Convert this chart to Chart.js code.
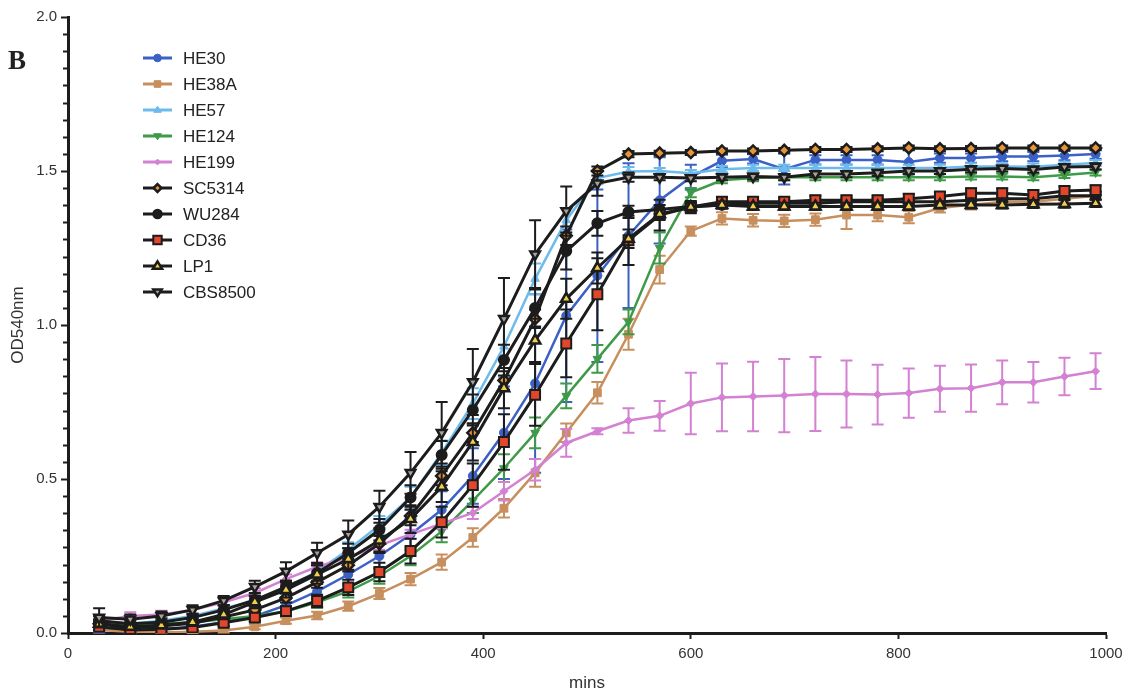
<!DOCTYPE html>
<html>
<head>
<meta charset="utf-8">
<title>OD540 growth curves</title>
<script src="https://cdn.jsdelivr.net/npm/chart.js@4.4.1/dist/chart.umd.min.js"></script>
<style>
  html, body { margin: 0; padding: 0; background: #fff; }
  #wrap { position: relative; width: 1133px; height: 696px; }
  #panel { position: absolute; left: 8px; top: 47px; font: bold 27px "Liberation Serif", "DejaVu Serif", serif; line-height: 1; color: #222; }
</style>
</head>
<body>
<div id="wrap">
  <canvas id="growthChart" width="1133" height="696"></canvas>
  <div id="panel">B</div>
</div>
<script>
// sampling times (mins)
const times = [30, 60, 90, 120, 150, 180, 210, 240, 270, 300, 330, 360, 390, 420, 450, 480, 510,
               540, 570, 600, 630, 660, 690, 720, 750, 780, 810, 840, 870, 900, 930, 960, 990];

const strains = ['HE30', 'HE38A', 'HE57', 'HE124', 'HE199', 'SC5314', 'WU284', 'CD36', 'LP1', 'CBS8500'];

// mean OD540 per strain
const he30 = [0.010, 0.010, 0.012, 0.020, 0.035, 0.055, 0.090, 0.135, 0.190, 0.250, 0.320, 0.400, 0.510, 0.650, 0.810, 1.030, 1.160,
              1.290, 1.405, 1.480, 1.533, 1.539, 1.506, 1.536, 1.536, 1.536, 1.529, 1.542, 1.542, 1.547, 1.547, 1.550, 1.555];
const he38a = [0.010, 0.004, 0.002, 0.004, 0.008, 0.020, 0.040, 0.057, 0.087, 0.128, 0.175, 0.230, 0.310, 0.405, 0.520, 0.650, 0.780,
               0.970, 1.180, 1.305, 1.346, 1.340, 1.338, 1.342, 1.357, 1.357, 1.350, 1.380, 1.390, 1.400, 1.400, 1.410, 1.420];
const he57 = [0.030, 0.030, 0.040, 0.055, 0.080, 0.105, 0.145, 0.200, 0.270, 0.350, 0.440, 0.585, 0.745, 0.930, 1.150, 1.340, 1.477,
              1.498, 1.500, 1.493, 1.506, 1.510, 1.510, 1.510, 1.510, 1.510, 1.510, 1.510, 1.515, 1.515, 1.514, 1.520, 1.526];
const he124 = [0.035, 0.025, 0.030, 0.035, 0.045, 0.055, 0.070, 0.100, 0.135, 0.185, 0.250, 0.330, 0.430, 0.535, 0.650, 0.770, 0.890,
               1.010, 1.250, 1.430, 1.470, 1.477, 1.480, 1.480, 1.480, 1.480, 1.480, 1.480, 1.482, 1.482, 1.480, 1.487, 1.495];
const he199 = [0.040, 0.055, 0.060, 0.075, 0.100, 0.130, 0.175, 0.215, 0.245, 0.285, 0.320, 0.355, 0.390, 0.460, 0.530, 0.617, 0.655,
               0.690, 0.705, 0.745, 0.765, 0.768, 0.771, 0.776, 0.776, 0.774, 0.779, 0.793, 0.795, 0.814, 0.814, 0.833, 0.850];
const sc5314 = [0.030, 0.016, 0.023, 0.032, 0.052, 0.075, 0.114, 0.165, 0.220, 0.290, 0.380, 0.510, 0.650, 0.820, 1.020, 1.290, 1.500,
                1.555, 1.558, 1.560, 1.565, 1.565, 1.567, 1.570, 1.570, 1.572, 1.575, 1.572, 1.573, 1.575, 1.575, 1.575, 1.575];
const wu284 = [0.040, 0.030, 0.035, 0.050, 0.075, 0.107, 0.150, 0.195, 0.260, 0.335, 0.440, 0.578, 0.724, 0.886, 1.055, 1.240, 1.330,
               1.367, 1.375, 1.385, 1.390, 1.395, 1.395, 1.395, 1.400, 1.400, 1.400, 1.400, 1.405, 1.410, 1.410, 1.420, 1.420];
const cd36 = [0.020, 0.010, 0.012, 0.018, 0.033, 0.050, 0.071, 0.104, 0.148, 0.198, 0.266, 0.360, 0.480, 0.620, 0.773, 0.940, 1.100,
              1.275, 1.357, 1.383, 1.400, 1.400, 1.400, 1.405, 1.405, 1.405, 1.410, 1.417, 1.428, 1.428, 1.422, 1.435, 1.438];
const lp1 = [0.030, 0.020, 0.025, 0.035, 0.060, 0.100, 0.140, 0.190, 0.240, 0.300, 0.370, 0.475, 0.620, 0.795, 0.950, 1.085, 1.185,
             1.280, 1.360, 1.383, 1.390, 1.385, 1.385, 1.385, 1.385, 1.385, 1.385, 1.390, 1.390, 1.390, 1.392, 1.393, 1.395];
const cbs8500 = [0.050, 0.045, 0.055, 0.075, 0.105, 0.150, 0.200, 0.260, 0.320, 0.410, 0.520, 0.650, 0.815, 1.020, 1.230, 1.370, 1.460,
                 1.480, 1.480, 1.477, 1.480, 1.482, 1.480, 1.490, 1.490, 1.494, 1.500, 1.500, 1.506, 1.508, 1.505, 1.513, 1.515];

// standard deviations (error bars)
const he30Sd = [0.010, 0.010, 0.010, 0.010, 0.012, 0.015, 0.020, 0.025, 0.030, 0.040, 0.050, 0.060, 0.090, 0.150, 0.290, 0.280, 0.280,
                0.235, 0.140, 0.040, 0.020, 0.015, 0.050, 0.015, 0.015, 0.015, 0.040, 0.015, 0.015, 0.015, 0.015, 0.015, 0.015];
const he38aSd = [0.005, 0.005, 0.005, 0.005, 0.006, 0.008, 0.010, 0.012, 0.015, 0.018, 0.020, 0.025, 0.030, 0.030, 0.045, 0.030, 0.035,
                 0.050, 0.045, 0.015, 0.020, 0.020, 0.020, 0.020, 0.045, 0.020, 0.020, 0.015, 0.015, 0.015, 0.015, 0.015, 0.015];
const he57Sd = [0.010, 0.010, 0.010, 0.010, 0.012, 0.015, 0.018, 0.020, 0.025, 0.030, 0.035, 0.040, 0.050, 0.100, 0.050, 0.040, 0.020,
                0.015, 0.010, 0.010, 0.010, 0.010, 0.010, 0.010, 0.010, 0.010, 0.010, 0.010, 0.010, 0.010, 0.010, 0.010, 0.010];
const he124Sd = [0.010, 0.010, 0.010, 0.010, 0.010, 0.012, 0.015, 0.018, 0.020, 0.025, 0.030, 0.035, 0.040, 0.045, 0.050, 0.040, 0.045,
                 0.040, 0.050, 0.015, 0.010, 0.010, 0.010, 0.010, 0.010, 0.010, 0.010, 0.010, 0.010, 0.010, 0.010, 0.010, 0.010];
const he199Sd = [0.010, 0.012, 0.012, 0.012, 0.012, 0.015, 0.015, 0.015, 0.015, 0.015, 0.015, 0.015, 0.020, 0.030, 0.035, 0.045, 0.010,
                 0.040, 0.048, 0.100, 0.110, 0.113, 0.119, 0.120, 0.109, 0.097, 0.080, 0.075, 0.077, 0.071, 0.066, 0.061, 0.058];
const sc5314Sd = [0.010, 0.010, 0.010, 0.010, 0.010, 0.012, 0.015, 0.018, 0.020, 0.025, 0.030, 0.030, 0.030, 0.030, 0.030, 0.030, 0.015,
                  0.010, 0.008, 0.008, 0.008, 0.008, 0.008, 0.008, 0.008, 0.008, 0.008, 0.008, 0.008, 0.008, 0.008, 0.008, 0.008];
const wu284Sd = [0.015, 0.012, 0.012, 0.012, 0.015, 0.015, 0.020, 0.025, 0.030, 0.035, 0.040, 0.045, 0.050, 0.050, 0.060, 0.060, 0.040,
                 0.020, 0.015, 0.012, 0.012, 0.012, 0.012, 0.012, 0.012, 0.012, 0.012, 0.012, 0.012, 0.012, 0.012, 0.012, 0.012];
const cd36Sd = [0.010, 0.010, 0.010, 0.010, 0.010, 0.012, 0.015, 0.020, 0.025, 0.030, 0.040, 0.050, 0.070, 0.090, 0.100, 0.110, 0.117,
                0.080, 0.050, 0.020, 0.015, 0.015, 0.015, 0.015, 0.015, 0.015, 0.015, 0.015, 0.015, 0.015, 0.015, 0.015, 0.015];
const lp1Sd = [0.012, 0.010, 0.010, 0.012, 0.015, 0.020, 0.025, 0.030, 0.035, 0.040, 0.045, 0.050, 0.060, 0.065, 0.070, 0.065, 0.050,
               0.030, 0.015, 0.012, 0.012, 0.012, 0.012, 0.012, 0.012, 0.012, 0.012, 0.012, 0.012, 0.012, 0.012, 0.012, 0.012];
const cbs8500Sd = [0.030, 0.015, 0.015, 0.015, 0.015, 0.020, 0.030, 0.033, 0.045, 0.052, 0.068, 0.100, 0.107, 0.133, 0.110, 0.080, 0.040,
                   0.015, 0.010, 0.010, 0.010, 0.010, 0.010, 0.010, 0.010, 0.010, 0.010, 0.010, 0.010, 0.010, 0.010, 0.010, 0.010];

const means = [he30, he38a, he57, he124, he199, sc5314, wu284, cd36, lp1, cbs8500];
const sds = [he30Sd, he38aSd, he57Sd, he124Sd, he199Sd, sc5314Sd, wu284Sd, cd36Sd, lp1Sd, cbs8500Sd];

const INK = '#1c1c1c';
const styles = [
    { line: '#3b60c6', fill: '#3b60c6', shape: 'circle', r: 4.5, width: 2.5, bw: 1 },
    { line: '#c78f5e', fill: '#c78f5e', shape: 'rect', r: 5.5, width: 2.5, bw: 1 },
    { line: '#6dbaec', fill: '#6dbaec', shape: 'triangle', r: 5, width: 2.5, bw: 1 },
    { line: '#3f9a48', fill: '#3f9a48', shape: 'triangleDown', r: 5, width: 2.5, bw: 1 },
    { line: '#d381d2', fill: '#d381d2', shape: 'rectRot', r: 4, width: 2.5, bw: 1 },
    { line: INK, fill: '#e8953a', shape: 'rectRot', r: 5.5, width: 3, bw: 2.5 },
    { line: INK, fill: INK, shape: 'circle', r: 5, width: 3, bw: 2 },
    { line: INK, fill: '#e2472b', shape: 'rect', r: 7, width: 3, bw: 2 },
    { line: INK, fill: '#f1d048', shape: 'triangle', r: 6, width: 3, bw: 2.5 },
    { line: INK, fill: '#aaa397', shape: 'triangleDown', r: 5.5, width: 3, bw: 2.5 }
];

function chartStyle(s) {
    if (s.shape === 'triangleDown') return { pointStyle: 'triangle', rotation: 180 };
    return { pointStyle: s.shape, rotation: 0 };
}

const datasets = strains.map((name, i) => {
    const s = styles[i];
    const ps = chartStyle(s);
    return {
        label: name,
        data: times.map((t, k) => ({ x: t, y: means[i][k] })),
        sd: sds[i],
        borderColor: s.line,
        borderWidth: s.width,
        backgroundColor: s.fill,
        pointStyle: ps.pointStyle,
        pointRotation: ps.rotation,
        pointRadius: s.r,
        pointBackgroundColor: s.fill,
        pointBorderColor: s.line,
        pointBorderWidth: s.bw,
        tension: 0,
        order: strains.length - i   // later strains sit on top
    };
});

// vertical error bars drawn just before each dataset's own line
const errorBars = {
    id: 'errorBars',
    beforeDatasetDraw(chart, args) {
        const ds = chart.data.datasets[args.index];
        const yScale = chart.scales.y;
        const ctx = chart.ctx;
        ctx.save();
        ctx.strokeStyle = ds.borderColor;
        ctx.lineWidth = 2;
        args.meta.data.forEach((pt, k) => {
            const v = ds.data[k].y;
            const e = ds.sd[k];
            const top = yScale.getPixelForValue(v + e);
            const bot = yScale.getPixelForValue(Math.max(0, v - e));
            const cap = 6;
            ctx.beginPath();
            ctx.moveTo(pt.x, top);
            ctx.lineTo(pt.x, bot);
            ctx.moveTo(pt.x - cap, top);
            ctx.lineTo(pt.x + cap, top);
            ctx.moveTo(pt.x - cap, bot);
            ctx.lineTo(pt.x + cap, bot);
            ctx.stroke();
        });
        ctx.restore();
    }
};

// nine minor divisions between the labelled y ticks
const minorTicks = {
    id: 'minorTicks',
    afterDraw(chart) {
        const y = chart.scales.y;
        const x0 = chart.chartArea.left;
        const ctx = chart.ctx;
        ctx.save();
        ctx.strokeStyle = INK;
        ctx.lineWidth = 2;
        for (let k = 1; k < 36; k++) {
            if (k % 9 === 0) continue;
            const py = Math.round(y.getPixelForValue(k * 0.5 / 9)) + 0.5;
            ctx.beginPath();
            ctx.moveTo(x0 - 5, py);
            ctx.lineTo(x0, py);
            ctx.stroke();
        }
        ctx.restore();
    }
};

function drawMarker(ctx, shape, x, y, r) {
    ctx.beginPath();
    if (shape === 'circle') {
        ctx.arc(x, y, r, 0, Math.PI * 2);
    } else if (shape === 'rect') {
        const h = r * Math.SQRT1_2;
        ctx.rect(x - h, y - h, 2 * h, 2 * h);
    } else if (shape === 'rectRot') {
        const h = r * Math.SQRT1_2 * 1.2;
        ctx.moveTo(x, y - h); ctx.lineTo(x + h, y); ctx.lineTo(x, y + h); ctx.lineTo(x - h, y);
        ctx.closePath();
    } else {
        const dir = shape === 'triangle' ? 1 : -1;
        const h = r * 0.9;
        ctx.moveTo(x, y - dir * h);
        ctx.lineTo(x + h, y + dir * h * 0.6);
        ctx.lineTo(x - h, y + dir * h * 0.6);
        ctx.closePath();
    }
}

// legend: short line with marker, then the strain name
const sideLegend = {
    id: 'sideLegend',
    afterDraw(chart) {
        const ctx = chart.ctx;
        ctx.save();
        ctx.font = '17px "Liberation Sans", Arial, sans-serif';
        ctx.textBaseline = 'middle';
        strains.forEach((name, i) => {
            const s = styles[i];
            const y = 58 + i * 26;
            ctx.strokeStyle = s.line;
            ctx.lineWidth = 3;
            ctx.beginPath();
            ctx.moveTo(143, y);
            ctx.lineTo(172, y);
            ctx.stroke();
            drawMarker(ctx, s.shape, 157.5, y, s.r * 0.85);
            ctx.fillStyle = s.fill;
            ctx.fill();
            ctx.lineWidth = s.bw;
            ctx.stroke();
            ctx.fillStyle = '#222';
            ctx.fillText(name, 183, y + 1);
        });
        ctx.restore();
    }
};

const axisFont = { family: '"Liberation Sans", Arial, sans-serif', size: 15 };
const titleFont = { family: '"Liberation Sans", Arial, sans-serif', size: 17 };

new Chart(document.getElementById('growthChart'), {
    type: 'line',
    data: { datasets: datasets },
    plugins: [errorBars, minorTicks, sideLegend],
    options: {
        responsive: false,
        animation: false,
        layout: { padding: { top: 17, right: 27, left: 0, bottom: 0 } },
        plugins: {
            legend: { display: false },
            tooltip: { enabled: false }
        },
        scales: {
            x: {
                type: 'linear',
                min: 0,
                max: 1000,
                afterFit(scale) { scale.height = 63; },
                ticks: { stepSize: 200, color: '#333', font: axisFont, padding: 6, maxRotation: 0, callback: v => String(v) },
                grid: { display: true, drawOnChartArea: false, tickLength: 6, tickWidth: 2, tickColor: INK },
                border: { display: true, width: 3, color: INK },
                title: { display: true, text: 'mins', color: '#333', font: titleFont, padding: { top: 2, bottom: 2 } }
            },
            y: {
                min: 0,
                max: 2,
                afterFit(scale) { scale.width = 68; },
                ticks: { stepSize: 0.5, color: '#333', font: axisFont, padding: 4, callback: v => v.toFixed(1) },
                grid: { display: true, drawOnChartArea: false, tickLength: 7, tickWidth: 2, tickColor: INK },
                border: { display: true, width: 3, color: INK },
                title: { display: true, text: 'OD540nm', color: '#333', font: titleFont, padding: { top: 8, bottom: 0 } }
            }
        }
    }
});
</script>
</body>
</html>
